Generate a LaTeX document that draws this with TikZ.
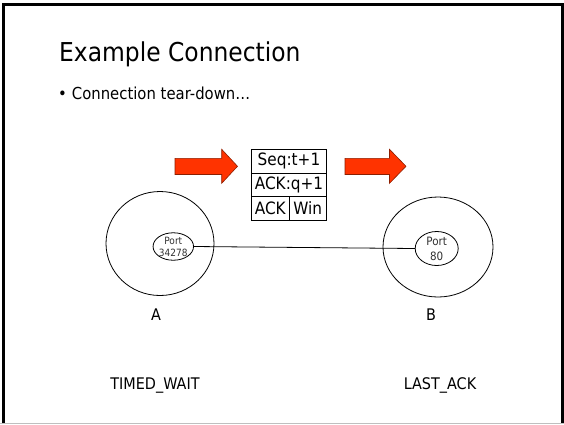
\documentclass[tikz,border=0pt]{standalone}
\usepackage{fontspec}
\usetikzlibrary{shapes.geometric}
\setmainfont{DejaVu Sans}[FakeStretch=0.9]
\definecolor{arrowfill}{RGB}{255,51,0}
\definecolor{arrowedge}{RGB}{140,30,0}
\definecolor{porttext}{RGB}{50,50,50}
\begin{document}
\begin{tikzpicture}[x=1pt,y=-1pt,
  cell/.style={draw,line width=0.9pt,inner sep=0pt,minimum height=23.5pt,font=\fontsize{17}{17}\selectfont},
  bigcirc/.style={draw,ellipse,line width=0.8pt,inner sep=0pt},
  port/.style={draw,ellipse,line width=0.8pt,inner sep=0pt,align=center,text=porttext},
  lbl/.style={font=\fontsize{16}{16}\selectfont,anchor=base},
  fatarrow/.style={fill=arrowfill,draw=arrowedge,line width=0.6pt}]
\useasboundingbox (0,0) rectangle (564,424);
\fill[white] (0,0) rectangle (564,424);
% frame
\draw[line width=2.6pt] (3.5,424) -- (3.5,4.5) -- (562.5,4.5) -- (562.5,424);
\draw[black!25,line width=1pt] (0,423.5) -- (564,423.5);
% title and bullet
\node[anchor=base west,font=\fontsize{26}{26}\selectfont,inner sep=0pt] (title) at (59,61.7) {Example Connection};
\node[anchor=base west,font=\fontsize{16.5}{16.5}\selectfont,inner sep=0pt] (bullet) at (58,99) {•\hspace{5pt}Connection tear-down…};
% red arrows
\draw[fatarrow] (175,158.3) -- (221.7,158.3) -- (221.7,149.3) -- (237.5,166.3) -- (221.7,183.3) -- (221.7,174.5) -- (175,174.5) -- cycle;
\draw[fatarrow] (345,158.3) -- (389.5,158.3) -- (389.5,149.3) -- (406,166.3) -- (389.5,183.3) -- (389.5,174.5) -- (345,174.5) -- cycle;
% packet
\node[cell,minimum width=75pt] (seq) at (289,161.3) {Seq:t+1};
\node[cell,minimum width=75pt] (ack) at (289,185) {ACK:q+1};
\node[cell,minimum width=37.5pt] (ackf) at (270.25,208.5) {ACK};
\node[cell,minimum width=37.5pt] (win) at (307.75,208.5) {Win};
% hosts
\node[bigcirc,minimum width=108pt,minimum height=104pt] (A) at (160,243.5) {};
\node[bigcirc,minimum width=110pt,minimum height=100pt] (B) at (438,247) {};
\node[port,minimum width=32pt,minimum height=26pt,font=\fontsize{10}{13}\selectfont] (pA) at (173.3,246.5) {Port\\[-1pt]34278};
\node[port,minimum width=43pt,minimum height=34pt,font=\fontsize{11.5}{15}\selectfont] (pB) at (436.7,248.5) {Port\\80};
\draw[line width=0.8pt] (pA.east) -- (pB.west);
% labels
\node[lbl] (la) at (156,320) {A};
\node[lbl] (lb) at (431,320) {B};
\node[lbl] (sa) at (155,389) {TIMED\_WAIT};
\node[lbl] (sb) at (440,389) {LAST\_ACK};
\end{tikzpicture}
\end{document}
